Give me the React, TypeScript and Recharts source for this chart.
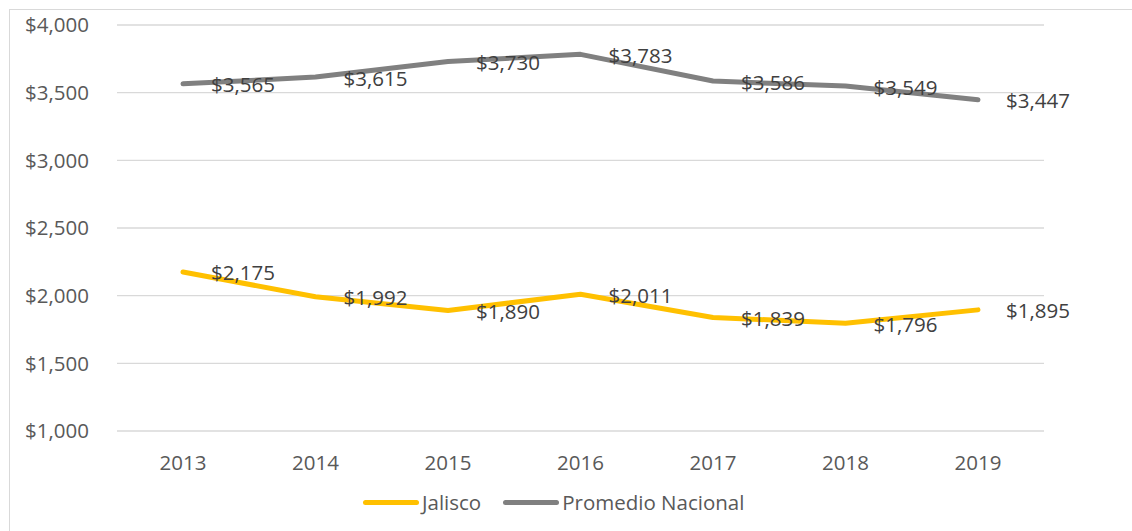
import { CartesianGrid, LabelList, Line, LineChart, XAxis, YAxis } from "recharts"

const years = ["2013", "2014", "2015", "2016", "2017", "2018", "2019"]
const jalisco = [2175, 1992, 1890, 2011, 1839, 1796, 1895]
const nacional = [3565, 3615, 3730, 3783, 3586, 3549, 3447]
const yTicks = [1000, 1500, 2000, 2500, 3000, 3500, 4000]

const data = years.map((year, i) => ({ year, jalisco: jalisco[i], nacional: nacional[i] }))

const FONT = "'Open Sans', sans-serif"
const money = (v: number) => `$${v.toLocaleString("en-US")}`

const series = [
  { key: "jalisco", name: "Jalisco", color: "#FFC000" },
  { key: "nacional", name: "Promedio Nacional", color: "#808080" },
]

function PointLabel(props: any) {
  const { x, y, value } = props
  return (
    <text x={x + 28} y={y + 3} dominantBaseline="middle" textAnchor="start" fill="#404040" fontSize={20.5} fontFamily={FONT}>
      {money(value)}
    </text>
  )
}

function LegendBox() {
  return (
    <div style={{ position: "absolute", left: 363, top: 488, display: "flex", alignItems: "center", fontFamily: FONT, fontSize: 20.5, color: "#595959", lineHeight: "28px" }}>
      {series.map((s, i) => (
        <div key={s.key} style={{ display: "flex", alignItems: "center", marginLeft: i ? 22 : 0 }}>
          <span style={{ display: "inline-block", width: 56, height: 5, borderRadius: 3, background: s.color, marginRight: 3 }} />
          <span>{s.name}</span>
        </div>
      ))}
    </div>
  )
}

export default function App() {
  return (
    <div style={{ position: "fixed", left: 0, top: 0, width: 1132, height: 531, background: "#fff", overflow: "hidden" }}>
      <style>{`body{margin:0;overflow:hidden}`}</style>
      <div style={{ position: "absolute", left: 9, top: 9, width: 1140, height: 540, borderLeft: "1px solid #D9D9D9", borderTop: "1px solid #D9D9D9" }} />
      <div style={{ position: "absolute", left: 0, top: 0 }}>
        <LineChart width={1132} height={531} data={data} margin={{ top: 25, right: 88, bottom: 0, left: 0 }}>
          <CartesianGrid vertical={false} stroke="#D9D9D9" strokeWidth={1.3} />
          <XAxis
            dataKey="year"
            axisLine={false}
            tickLine={false}
            tickSize={0}
            tickMargin={24}
            padding={{ left: 66, right: 66 }}
            tick={{ fill: "#595959", fontSize: 20.5, fontFamily: FONT }}
            height={100}
          />
          <YAxis
            domain={[1000, 4000]}
            ticks={yTicks}
            axisLine={false}
            tickLine={false}
            tickSize={0}
            tickMargin={28}
            width={117}
            tickFormatter={money}
            tick={{ fill: "#595959", fontSize: 20.5, fontFamily: FONT }}
          />
          {series.map((s) => (
            <Line
              key={s.key}
              type="linear"
              dataKey={s.key}
              name={s.name}
              stroke={s.color}
              strokeWidth={5}
              strokeLinecap="round"
              strokeLinejoin="round"
              dot={false}
              activeDot={false}
              isAnimationActive={false}
            >
              <LabelList dataKey={s.key} content={<PointLabel />} />
            </Line>
          ))}
        </LineChart>
      </div>
      <LegendBox />
    </div>
  )
}
